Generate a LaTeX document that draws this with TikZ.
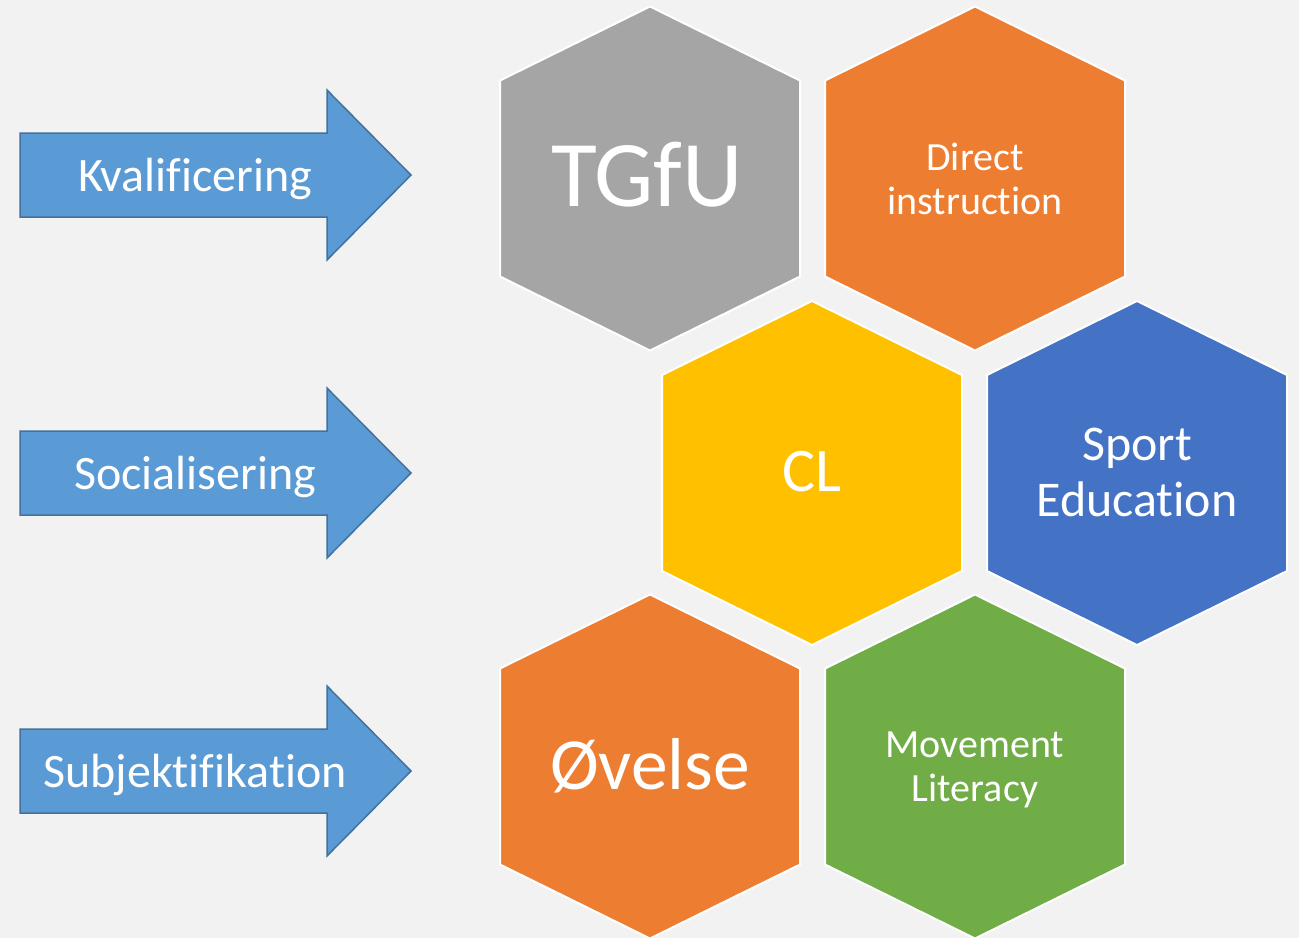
\documentclass[tikz,border=0pt]{standalone}
\usepackage{fontspec}
\setmainfont{Carlito}[Ligatures={NoCommon,NoRequired,NoContextual},Contextuals=NoAlternate]
\usepackage{tikz}
\usepackage{xcolor}
\usetikzlibrary{positioning}
\definecolor{bgcol}{RGB}{242,242,242}
\definecolor{arrowfill}{RGB}{91,155,213}
\definecolor{arrowline}{RGB}{65,113,156}
\definecolor{hexgray}{RGB}{165,165,165}
\definecolor{hexorange}{RGB}{237,125,49}
\definecolor{hexyellow}{RGB}{255,192,0}
\definecolor{hexblue}{RGB}{68,114,196}
\definecolor{hexgreen}{RGB}{112,173,71}
\tikzstyle{arrowshape} = [
    fill=arrowfill,
    draw=arrowline,
    line width=1.5pt,
    line join=miter
]
\tikzstyle{hexshape} = [
    draw=white,
    line width=2pt
]
\tikzstyle{arrowtext} = [
    text=white,
    anchor=base,
    inner sep=0pt,
    font=\fontsize{48}{57}\selectfont
]
\tikzstyle{hextext} = [
    text=white,
    align=center,
    inner sep=0pt
]

\begin{document}
\begin{tikzpicture}[x=1pt,y=-1pt]
        % Background
        \fill[bgcol] (0,0) rectangle (1299,938);
        \useasboundingbox (0,0) rectangle (1299,938);

        % Arrows
        \foreach \y in {175,473,771} {
            \draw[arrowshape] (20,\y-42) -- (327,\y-42) -- (327,\y-85) -- (411,\y)
                -- (327,\y+85) -- (327,\y+42) -- (20,\y+42) -- cycle;
        }
        \node[arrowtext] (kval) at (195,191.5) {Kvalificering};
        \node[arrowtext] (social) at (195,489.5) {Socialisering};
        \node[arrowtext] (subjekt) at (195,787.5) {Subjektifikation};

        % Hexagons
        \foreach \cx/\cy/\c in {650/178.5/hexgray, 975/178.5/hexorange,
                812/473/hexyellow, 1137/473/hexblue,
                650/766.5/hexorange, 975/766.5/hexgreen} {
            \filldraw[hexshape, fill=\c] (\cx,\cy-172) -- (\cx+150,\cy-98)
                -- (\cx+150,\cy+98) -- (\cx,\cy+172) -- (\cx-150,\cy+98)
                -- (\cx-150,\cy-98) -- cycle;
        }

        % Hexagon texts
        \node[hextext, font=\fontsize{94}{112}\selectfont] (tgfu) at (647,175) {TGfU};
        \node[hextext, font=\fontsize{40}{44}\selectfont] (direct) at (975,179) {Direct\\instruction};
        \node[hextext, font=\fontsize{62}{72}\selectfont] (cl) at (812,472) {CL};
        \node[hextext, font=\fontsize{50}{56}\selectfont] (sport) at (1137,472) {Sport\\Education};
        \node[hextext, font=\fontsize{73.5}{86}\selectfont] (ovelse) at (650,766) {Øvelse};
        \node[hextext, font=\fontsize{40}{44}\selectfont] (movement) at (975,770) {Movement\\Literacy};
    \end{tikzpicture}
\end{document}
